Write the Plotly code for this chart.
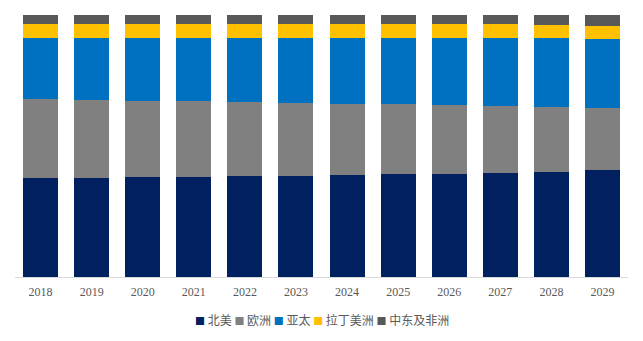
import plotly.graph_objects as go

years = ["2018", "2019", "2020", "2021", "2022", "2023", "2024", "2025", "2026", "2027", "2028", "2029"]
north_america = [37.8, 37.8, 38.2, 38.2, 38.5, 38.5, 38.9, 39.3, 39.3, 39.7, 40.1, 40.8]
europe = [30.2, 29.8, 29.0, 29.0, 28.2, 27.9, 27.1, 26.7, 26.3, 25.6, 24.8, 23.7]
asia_pacific = [23.3, 23.7, 24.0, 24.0, 24.4, 24.8, 25.2, 25.2, 25.6, 26.0, 26.3, 26.3]
latin_america = [5.3, 5.3, 5.3, 5.3, 5.3, 5.3, 5.3, 5.3, 5.3, 5.3, 5.0, 5.0]
mea = [3.4, 3.4, 3.5, 3.5, 3.6, 3.5, 3.5, 3.5, 3.5, 3.4, 3.8, 4.2]

series = [
    ("北美", north_america, "#002060"),
    ("欧洲", europe, "#808080"),
    ("亚太", asia_pacific, "#0070C0"),
    ("拉丁美洲", latin_america, "#FFC000"),
    ("中东及非洲", mea, "#595959"),
]

fig = go.Figure()
for name, vals, color in series:
    fig.add_trace(go.Bar(x=years, y=vals, name=name, marker_color=color,
                         marker_line_width=0, showlegend=False))

legend_text = " ".join(
    f'<span style="color:{color};font-size:10px">■</span> {name}' for name, _, color in series
)
fig.add_annotation(text=legend_text, xref="paper", yref="paper", x=0.5, y=-0.164,
                   xanchor="center", yanchor="middle", showarrow=False,
                   font=dict(family="Noto Sans CJK SC", size=12, color="#595959"))

fig.update_layout(
    barmode="stack",
    barnorm="percent",
    bargap=0.315,
    width=643, height=341,
    margin=dict(l=15, r=15, t=15, b=64),
    paper_bgcolor="white", plot_bgcolor="white",
    showlegend=False,
    xaxis=dict(showline=True, linecolor="#D9D9D9", linewidth=1, ticks="", automargin=False,
               ticklabelstandoff=4,
               tickfont=dict(family="Liberation Serif", size=12, color="#595959"),
               showgrid=False),
    yaxis=dict(visible=False, range=[0, 100], showgrid=False),
)

fig.write_html("out.html")
